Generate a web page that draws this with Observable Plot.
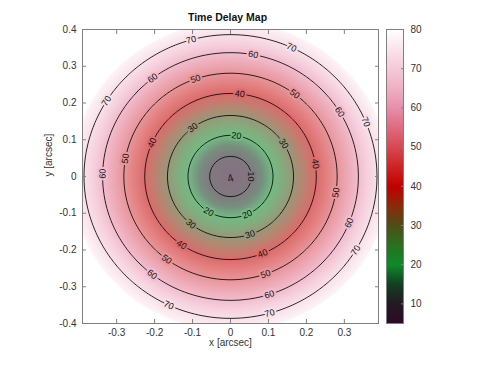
<!DOCTYPE html>
<html><head><meta charset="utf-8">
<script src="https://cdn.jsdelivr.net/npm/d3@7"></script>
<script src="https://cdn.jsdelivr.net/npm/@observablehq/plot@0.6"></script>
<style>
body{margin:0;background:#fff;font-family:"Liberation Sans",Arial,sans-serif}
#wrap{position:relative;width:485px;height:365px}
#wrap > svg{position:absolute;left:0;top:0}
</style></head><body><div id="wrap"></div>
<script>
// radial delay profile (delay value at radius, arcsec)
const profileLevels = [5, 10, 20, 30, 40, 50, 60, 70, 80];
const profileRadii  = [0, 0.055, 0.112, 0.166, 0.226, 0.281, 0.337, 0.386, 0.436];
const diskRadius = 0.42;
const contourLevels = [10, 20, 30, 40, 50, 60, 70];
const xTicks = [-0.3, -0.2, -0.1, 0, 0.1, 0.2, 0.3];
const yTicks = [-0.4, -0.3, -0.2, -0.1, 0, 0.1, 0.2, 0.3, 0.4];
const cbTicks = [10, 20, 30, 40, 50, 60, 70, 80];
const cmapValues = [5, 10, 15, 20, 25, 30, 35, 40, 45, 50, 55, 60, 65, 70, 75, 80];
const cmapColors = ["#2e0a26","#241a22","#143e22","#0e8a2a","#2a7020","#4e4e18","#8a2a0a","#c20000",
                    "#cf2424","#d84850","#e06a80","#e88eaa","#efb0c4","#f4cad9","#fae4ec","#ffffff"];
// contour label positions: level and polar angle (degrees)
const labelLevels = [10, 20,20,20, 30,30,30,30, 40,40,40,40,40, 50,50,50,50,50,50, 60,60,60,60,60,60,60, 70,70,70,70,70,70,70];
const labelAngles = [0, 82,-121,-67, 126.7,32.5,-129,-71.8, 83.8,156,8.8,-124.8,-68, 109.2,53,170,-126.7,-70.8,-9,
                     127.4,79.8,31.4,178.7,-127.8,-72.3,-22, 105.6,65.4,22.6,147.8,-114.9,-74.5,-31.3];
const centerMark = ["4"];

const radiusOf = d3.scaleLinear().domain(profileLevels).range(profileRadii);
const delayOf = d3.scaleLinear().domain(profileRadii).range(profileLevels);
const delayField = (x, y) => delayOf(Math.hypot(x, y));
const delay = (x, y) => Math.hypot(x, y) <= diskRadius ? delayField(x, y) : NaN;
const labels = labelLevels.map((lv, i) => {
  const t = labelAngles[i] * Math.PI / 180, r = radiusOf(lv);
  let rot = 90 - labelAngles[i];
  while (rot > 90) rot -= 180;
  while (rot < -90) rot += 180;
  return {level: lv, x: r * Math.cos(t), y: r * Math.sin(t), rotate: rot, text: String(lv)};
});
const mapColors = cmapColors.map(c => d3.interpolateRgb(c, "#ffffff")(0.42));

const X = [-0.39, 0.39], Y = [-0.4, 0.4];
const font = "'Liberation Sans', Arial, sans-serif";
const main = Plot.plot({
  width: 485, height: 365,
  marginLeft: 82, marginRight: 107, marginTop: 29, marginBottom: 42,
  x: {domain: X}, y: {domain: Y},
  color: {type: "linear", domain: cmapValues, range: mapColors},
  style: {fontFamily: font, fontSize: "10px", color: "#333", background: "transparent"},
  marks: [
    Plot.raster({x1: X[0], x2: X[1], y1: Y[0], y2: Y[1], fill: delay, pixelSize: 1}),
    Plot.contour({x1: X[0], x2: X[1], y1: Y[0], y2: Y[1], value: delayField, thresholds: contourLevels,
                  stroke: "#111", fill: "none", strokeWidth: 0.9, pixelSize: 1}),
    Plot.text(labels, {x: "x", y: "y", text: "text", rotate: "rotate", stroke: "level", strokeWidth: 4,
                       fill: "#111", fontSize: 9}),
    Plot.text(centerMark, {x: () => 0, y: () => 0, text: d => d, rotate: -20, fontSize: 11, fill: "#222", dy: 2}),
    Plot.frame({stroke: "#808080"}),
    Plot.axisX(xTicks, {anchor: "bottom", tickSize: 0, tickPadding: 5, tickFormat: d => String(d), label: null}),
    Plot.axisX(xTicks, {anchor: "bottom", tickSize: -4, tickFormat: () => "", label: null, stroke: "#808080"}),
    Plot.axisX(xTicks, {anchor: "top", tickSize: -4, tickFormat: () => "", label: null, stroke: "#808080"}),
    Plot.axisY(yTicks, {anchor: "left", tickSize: 0, tickPadding: 6, tickFormat: d => String(d), label: null}),
    Plot.axisY(yTicks, {anchor: "left", tickSize: -4, tickFormat: () => "", label: null, stroke: "#808080"}),
    Plot.axisY(yTicks, {anchor: "right", tickSize: -4, tickFormat: () => "", label: null, stroke: "#808080"}),
    Plot.text(["x [arcsec]"], {frameAnchor: "bottom", dy: 22, lineAnchor: "bottom", text: d => d, fontSize: 10, fill: "#333"}),
    Plot.text(["y [arcsec]"], {frameAnchor: "left", dx: -34, rotate: -90, text: d => d, fontSize: 10, fill: "#333"}),
    Plot.text(["Time Delay Map"], {frameAnchor: "top", dy: -9, dx: -3, lineAnchor: "bottom", text: d => d,
                                   fontSize: 10.5, fontWeight: "bold", fill: "#111"})
  ]
});

const cb = Plot.plot({
  width: 485, height: 365,
  marginLeft: 386, marginRight: 82, marginTop: 29, marginBottom: 42,
  x: {domain: [0, 1], axis: null}, y: {domain: [5, 80]},
  color: {type: "linear", domain: cmapValues, range: cmapColors},
  style: {fontFamily: font, fontSize: "10px", color: "#333", background: "transparent"},
  marks: [
    Plot.raster({x1: 0, x2: 1, y1: 5, y2: 80, fill: (x, y) => y, pixelSize: 1}),
    Plot.frame({stroke: "#808080"}),
    Plot.axisY(cbTicks, {anchor: "right", tickSize: 0, tickPadding: 7, label: null}),
    Plot.axisY(cbTicks, {anchor: "right", tickSize: -3, tickFormat: () => "", label: null, stroke: "#808080"})
  ]
});
const wrap = document.getElementById("wrap");
wrap.append(main, cb);
</script></body></html>
